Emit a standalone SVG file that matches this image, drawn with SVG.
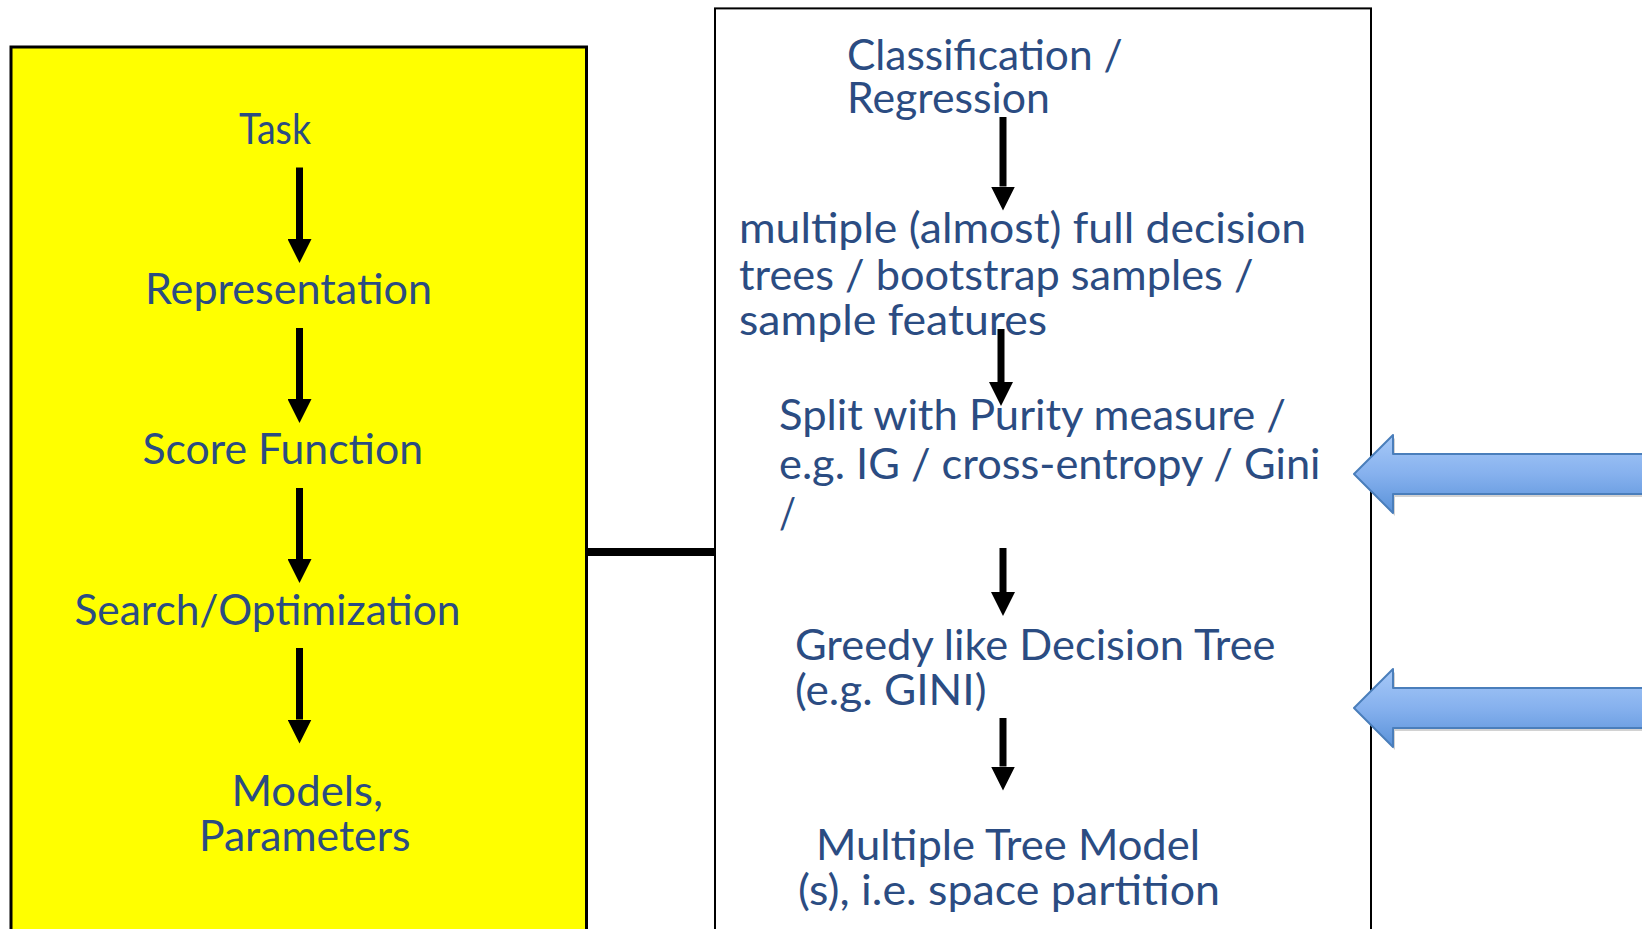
<svg xmlns="http://www.w3.org/2000/svg" width="1642" height="929" viewBox="0 0 1642 929">
  <defs>
    <style>
      .lbl { font-family: Lato, "Open Sans", "Liberation Sans", sans-serif; font-size: 42px; font-weight: 400; fill: #2B4C82; }
      .box { stroke: #000; stroke-width: 3; }
      .shaft { stroke: #000; stroke-width: 7; fill: none; }
      .link { stroke: #000; stroke-width: 8; fill: none; }
      .block { fill: url(#blueGrad); stroke: #4A7EBB; stroke-width: 2; stroke-linejoin: round; }
      .blockShadow { fill: #7F7F7F; opacity: 0.35; }
    </style>
    <marker id="head" viewBox="0 0 24 24" refX="0" refY="12" markerWidth="24" markerHeight="24" markerUnits="userSpaceOnUse" orient="auto">
      <path d="M0,0 L24,12 L0,24 Z" fill="#000"/>
    </marker>
    <linearGradient id="blueGrad" x1="0" y1="0" x2="0" y2="1">
      <stop offset="0" stop-color="#A7C9F8"/>
      <stop offset="0.5" stop-color="#86B1EE"/>
      <stop offset="1" stop-color="#5A92D9"/>
    </linearGradient>
  </defs>

  <rect width="1642" height="929" fill="#FFFFFF"/>

  <!-- yellow process column -->
  <g id="process">
    <rect class="box" x="11" y="47" width="575.5" height="900" fill="#FFFF00"/>
    <g id="task"><text class="lbl" x="239" y="144" textLength="72" lengthAdjust="spacingAndGlyphs">Task</text></g>
    <g id="representation"><text class="lbl" x="145" y="303.5" textLength="287" lengthAdjust="spacingAndGlyphs">Representation</text></g>
    <g id="score"><text class="lbl" x="142.5" y="464" textLength="280.5" lengthAdjust="spacingAndGlyphs">Score Function</text></g>
    <g id="search"><text class="lbl" x="74.4" y="625" textLength="386" lengthAdjust="spacingAndGlyphs">Search/Optimization</text></g>
    <g id="models">
      <text class="lbl" x="231.4" y="806" textLength="151.6" lengthAdjust="spacingAndGlyphs">Models,</text>
      <text class="lbl" x="199" y="851" textLength="211.5" lengthAdjust="spacingAndGlyphs">Parameters</text>
    </g>
  </g>

  <!-- random forest column -->
  <g id="forest">
    <rect class="box" x="715" y="8.4" width="656" height="940" fill="#FFFFFF" style="stroke-width:2"/>
    <g id="task-rf">
      <text class="lbl" x="847" y="70" textLength="275.6" lengthAdjust="spacingAndGlyphs">Classification /</text>
      <text class="lbl" x="847" y="113" textLength="203" lengthAdjust="spacingAndGlyphs">Regression</text>
    </g>
    <g id="trees">
      <text class="lbl" x="739" y="243" textLength="567" lengthAdjust="spacingAndGlyphs">multiple (almost) full decision</text>
      <text class="lbl" x="739" y="290" textLength="514.5" lengthAdjust="spacingAndGlyphs">trees / bootstrap samples /</text>
      <text class="lbl" x="739" y="335" textLength="308" lengthAdjust="spacingAndGlyphs">sample features</text>
    </g>
    <g id="split">
      <text class="lbl" x="779" y="430" textLength="507" lengthAdjust="spacingAndGlyphs">Split with Purity measure /</text>
      <text class="lbl" x="779" y="478.5" textLength="541.5" lengthAdjust="spacingAndGlyphs">e.g. IG / cross-entropy / Gini</text>
      <text class="lbl" x="779" y="528" textLength="17" lengthAdjust="spacingAndGlyphs">/</text>
    </g>
    <g id="greedy">
      <text class="lbl" x="795" y="660" textLength="480.5" lengthAdjust="spacingAndGlyphs">Greedy like Decision Tree</text>
      <text class="lbl" x="795" y="705" textLength="191.5" lengthAdjust="spacingAndGlyphs">(e.g. GINI)</text>
    </g>
    <g id="result">
      <text class="lbl" x="816" y="860" textLength="384" lengthAdjust="spacingAndGlyphs">Multiple Tree Model</text>
      <text class="lbl" x="798" y="905" textLength="422" lengthAdjust="spacingAndGlyphs">(s), i.e. space partition</text>
    </g>
  </g>

  <!-- block arrows pointing at the split and greedy steps -->
  <g id="pointer-split">
    <path class="blockShadow" d="M1356,477 L1395,438 L1395,457 L1650,457 L1650,497 L1395,497 L1395,516 Z"/>
    <path class="block" d="M1354,474 L1393,435 L1393,454 L1650,454 L1650,494 L1393,494 L1393,513 Z"/>
  </g>
  <g id="pointer-greedy">
    <path class="blockShadow" d="M1356,711 L1395,672 L1395,691 L1650,691 L1650,731 L1395,731 L1395,750 Z"/>
    <path class="block" d="M1354,708 L1393,669 L1393,688 L1650,688 L1650,728 L1393,728 L1393,747 Z"/>
  </g>

  <g id="connectors">
    <line class="link" x1="587" y1="552" x2="715" y2="552"/>
    <line class="shaft" x1="299.5" y1="167.5" x2="299.5" y2="239" marker-end="url(#head)"/>
    <line class="shaft" x1="299.5" y1="328" x2="299.5" y2="399" marker-end="url(#head)"/>
    <line class="shaft" x1="299.5" y1="488" x2="299.5" y2="559" marker-end="url(#head)"/>
    <line class="shaft" x1="299.5" y1="648" x2="299.5" y2="719.5" marker-end="url(#head)"/>
    <line class="shaft" x1="1003" y1="117" x2="1003" y2="186.5" marker-end="url(#head)"/>
    <line class="shaft" x1="1001" y1="329" x2="1001" y2="382" marker-end="url(#head)"/>
    <line class="shaft" x1="1003" y1="548" x2="1003" y2="592" marker-end="url(#head)"/>
    <line class="shaft" x1="1003" y1="718" x2="1003" y2="766.5" marker-end="url(#head)"/>
  </g>
</svg>
